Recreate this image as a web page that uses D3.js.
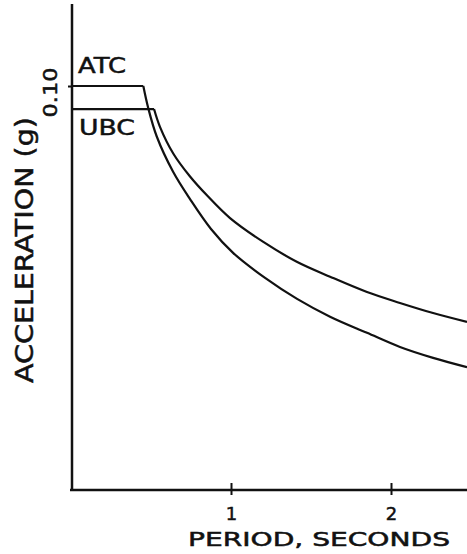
<!DOCTYPE html>
<html>
<head>
<meta charset="utf-8">
<script src="https://cdn.jsdelivr.net/npm/d3@7"></script>
<style>
  html, body { margin: 0; padding: 0; background: #fff; }
  svg { display: block; }
  text { font-family: "DejaVu Sans", sans-serif; fill: #111; stroke: #111; stroke-width: 0.5px; }
</style>
</head>
<body>
<div id="chart"></div>
<script>
// ---- data (period in seconds, acceleration in g) ----
const atcPeriod = [0, 0.452, 0.483, 0.536, 0.639, 0.744, 0.875, 1.013, 1.213, 1.413, 1.619, 1.85, 2.056, 2.263, 2.475];
const atcAccel  = [0.100, 0.100, 0.0945, 0.0875, 0.0787, 0.0720, 0.0646, 0.0587, 0.0525, 0.0473, 0.0429, 0.0389, 0.0354, 0.0327, 0.0304];
const ubcPeriod = [0, 0.519, 0.556, 0.639, 0.744, 0.848, 0.994, 1.202, 1.411, 1.619, 1.85, 2.056, 2.263, 2.475];
const ubcAccel  = [0.0943, 0.0943, 0.0899, 0.0833, 0.0776, 0.0730, 0.0673, 0.0614, 0.0565, 0.0528, 0.0490, 0.0463, 0.0438, 0.0416];
const seriesNames = ["ATC", "UBC"];
const xTicks = [1, 2];
const xTickLabels = ["1", "2"];
const yTicks = [0.1];
const yTickLabels = ["0.10"];
const xTitle = "PERIOD, SECONDS";
const yTitle = "ACCELERATION (g)";

const W = 467, H = 554;
const x0 = 71, x1 = 467, yBase = 490, yTop = 4;
const x = d3.scaleLinear().domain([0, 2.475]).range([x0, x1]);
const y = d3.scaleLinear().domain([0, 0.1203]).range([yBase, yTop]);

const svg = d3.select("#chart").append("svg").attr("width", W).attr("height", H);
const ink = "#111";

// x axis
const xAxis = d3.axisBottom(x).tickValues(xTicks).tickSizeOuter(0).tickSizeInner(6).tickFormat("");
const gx = svg.append("g").attr("transform", `translate(0,${yBase})`).call(xAxis);
gx.select(".domain").attr("stroke", ink).attr("stroke-width", 2.5).attr("d", `M${x0 - 1},0H${x1}`);
gx.selectAll(".tick line").attr("stroke", ink).attr("stroke-width", 2).attr("y1", -7).attr("y2", 5);
gx.selectAll(".tick").append("text")
  .attr("y", 30).attr("text-anchor", "middle")
  .style("font-size", "18px")
  .text((d, i) => xTickLabels[i]);

// y axis
const yAxis = d3.axisLeft(y).tickValues(yTicks).tickSizeOuter(0).tickSizeInner(4).tickFormat("");
const gy = svg.append("g").attr("transform", `translate(${x0 + 1},0)`).call(yAxis);
gy.select(".domain").attr("stroke", ink).attr("stroke-width", 2.5).attr("d", `M0,${yTop}V${yBase + 1}`);
gy.selectAll(".tick line").attr("stroke", ink).attr("stroke-width", 2);
gy.selectAll(".tick").append("text")
  .attr("transform", "translate(-15,6) rotate(-90)")
  .attr("text-anchor", "middle")
  .attr("textLength", 50).attr("lengthAdjust", "spacingAndGlyphs")
  .style("font-size", "19px")
  .text((d, i) => yTickLabels[i]);

// curves
function drawSeries(px, ay) {
  const pts = px.map((p, i) => [p, ay[i]]);
  const flat = pts.slice(0, 2);
  const fall = pts.slice(1);
  const lineLin = d3.line().x(d => x(d[0])).y(d => y(d[1]));
  const lineCurve = d3.line().x(d => x(d[0])).y(d => y(d[1])).curve(d3.curveCatmullRom.alpha(0.5));
  svg.append("path").attr("d", lineLin(flat)).attr("fill", "none").attr("stroke", ink).attr("stroke-width", 2.2);
  svg.append("path").attr("d", lineCurve(fall)).attr("fill", "none").attr("stroke", ink).attr("stroke-width", 2.2).attr("stroke-linejoin", "round");
}
drawSeries(atcPeriod, atcAccel);
drawSeries(ubcPeriod, ubcAccel);

// series labels
svg.append("text").attr("x", 78).attr("y", 73)
  .attr("textLength", 48).attr("lengthAdjust", "spacingAndGlyphs")
  .style("font-size", "21px").text(seriesNames[0]);
svg.append("text").attr("x", 79).attr("y", 135)
  .attr("textLength", 56).attr("lengthAdjust", "spacingAndGlyphs")
  .style("font-size", "21px").text(seriesNames[1]);

// axis titles
svg.append("text").attr("x", 188).attr("y", 546)
  .attr("textLength", 262).attr("lengthAdjust", "spacingAndGlyphs")
  .style("font-size", "19px").text(xTitle);
svg.append("text")
  .attr("transform", "translate(33,383) rotate(-90)")
  .attr("textLength", 266).attr("lengthAdjust", "spacingAndGlyphs")
  .style("font-size", "24px").text(yTitle);
</script>
</body>
</html>
